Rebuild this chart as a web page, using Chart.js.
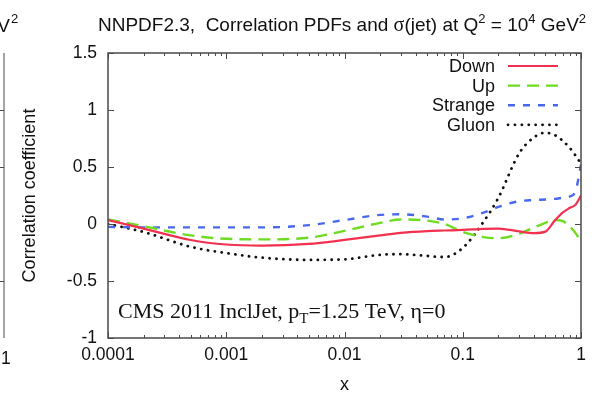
<!DOCTYPE html>
<html>
<head>
<meta charset="utf-8">
<script src="https://cdn.jsdelivr.net/npm/chart.js@4"></script>
<style>
  html, body { margin: 0; padding: 0; background: #fff; }
  #wrap { width: 596px; height: 394px; }
</style>
</head>
<body>
<div id="wrap"><canvas id="corr-chart" width="596" height="394"></canvas></div>
<script>
// values (right panel)
const xValues = [1e-4, 2e-4, 5e-4, 1e-3, 2e-3, 5e-3, 0.01, 0.02, 0.03, 0.05, 0.07, 0.1, 0.15, 0.2, 0.3, 0.4, 0.5, 0.6, 0.7, 0.8, 0.9, 1];
const downValues    = [0.035, -0.04, -0.14, -0.18, -0.19, -0.175, -0.14, -0.1, -0.078, -0.062, -0.057, -0.052, -0.042, -0.04, -0.065, -0.08, -0.067, 0.03, 0.1, 0.14, 0.17, 0.25];
const upValues      = [0.04, -0.02, -0.1, -0.13, -0.135, -0.12, -0.06, 0.01, 0.04, 0.03, 0.0, -0.07, -0.115, -0.125, -0.085, -0.03, 0.01, 0.035, 0.025, -0.02, -0.08, -0.155];
const strangeValues = [-0.025, -0.03, -0.03, -0.03, -0.03, -0.01, 0.035, 0.08, 0.085, 0.065, 0.04, 0.05, 0.1, 0.15, 0.2, 0.21, 0.215, 0.22, 0.23, 0.24, 0.29, 0.52];
const gluonValues   = [0.0, -0.07, -0.2, -0.255, -0.295, -0.315, -0.31, -0.27, -0.265, -0.28, -0.29, -0.21, 0.02, 0.23, 0.62, 0.76, 0.8, 0.78, 0.73, 0.67, 0.6, 0.53];

const seriesNames = ['Down', 'Up', 'Strange', 'Gluon'];
const xTicks = [1e-4, 1e-3, 1e-2, 1e-1, 1];
const xTickLabels = ['0.0001', '0.001', '0.01', '0.1', '1'];
const yTicks = [-1, -0.5, 0, 0.5, 1, 1.5];
const yTickLabels = ['-1', '-0.5', '0', '0.5', '1', '1.5'];

const sans = '"Liberation Sans", Arial, sans-serif';
const serif = '"Liberation Serif", "Times New Roman", serif';

const toPoints = vals => xValues.map((x, i) => ({ x, y: vals[i] }));

function drawParts(ctx, parts, x, y, centered) {
  let total = 0;
  parts.forEach(p => { ctx.font = p[1]; total += ctx.measureText(p[0]).width; });
  let cx = centered ? x - total / 2 : x;
  parts.forEach(p => {
    ctx.font = p[1];
    ctx.fillText(p[0], cx, y + (p[2] || 0));
    cx += ctx.measureText(p[0]).width;
  });
}

const gnuplotFrame = {
  id: 'gnuplotFrame',
  afterDatasetsDraw(chart) {
    const { ctx, chartArea: a, scales } = chart;
    ctx.save();

    // frame with inward ticks
    ctx.strokeStyle = '#4a4a4a';
    ctx.lineWidth = 1.5;
    ctx.strokeRect(a.left, a.top, a.right - a.left, a.bottom - a.top);
    ctx.lineWidth = 1;
    ctx.beginPath();
    const vtick = (px, len) => {
      ctx.moveTo(px, a.bottom); ctx.lineTo(px, a.bottom - len);
      ctx.moveTo(px, a.top); ctx.lineTo(px, a.top + len);
    };
    xTicks.forEach((d, i) => {
      vtick(Math.round(scales.x.getPixelForValue(d)) + 0.5, 6);
      if (i < xTicks.length - 1) {
        for (let k = 2; k < 10; k++) vtick(Math.round(scales.x.getPixelForValue(k * d)) + 0.5, 3);
      }
    });
    yTicks.forEach(v => {
      const py = Math.round(scales.y.getPixelForValue(v)) + 0.5;
      ctx.moveTo(a.left, py); ctx.lineTo(a.left + 6, py);
      ctx.moveTo(a.right, py); ctx.lineTo(a.right - 6, py);
    });
    // edge of the neighbouring panel
    ctx.moveTo(4, a.top); ctx.lineTo(4, a.bottom);
    [1, 0.5, -0.5].forEach(v => {
      const py = Math.round(scales.y.getPixelForValue(v)) + 0.5;
      ctx.moveTo(4, py); ctx.lineTo(0, py);
    });
    ctx.stroke();

    // legend: text on the left, sample on the right
    ctx.fillStyle = '#111';
    ctx.textAlign = 'right';
    ctx.textBaseline = 'middle';
    ctx.font = '18px ' + sans;
    chart.data.datasets.forEach((ds, i) => {
      const y = 66 + i * 19.6;
      ctx.fillText(ds.label, 495, y + 1);
      ctx.save();
      ctx.strokeStyle = ds.borderColor;
      ctx.lineWidth = ds.borderWidth;
      ctx.lineCap = ds.borderCapStyle || 'butt';
      ctx.setLineDash(ds.borderDash || []);
      ctx.beginPath();
      ctx.moveTo(508, y); ctx.lineTo(558, y);
      ctx.stroke();
      ctx.restore();
    });

    // title and annotation
    ctx.textAlign = 'left';
    ctx.textBaseline = 'alphabetic';
    const f = '19px ' + sans, s = '13px ' + sans;
    drawParts(ctx, [
      ['NNPDF2.3,  Correlation PDFs and ', f],
      ['σ', '20px ' + serif],
      ['(jet) at Q', f], ['2', s, -8],
      [' = 10', f], ['4', s, -8],
      [' GeV', f], ['2', s, -8]
    ], 342, 31, true);

    drawParts(ctx, [
      ['CMS 2011 InclJet, p', '22px ' + serif],
      ['T', '15px ' + serif, 5],
      ['=1.25 TeV, η=0', '22px ' + serif]
    ], 118, 318, false);

    // bits of the left panel's labels
    ctx.textAlign = 'right';
    ctx.font = f;
    ctx.fillText('GeV', 10, 32);
    ctx.textAlign = 'left';
    ctx.font = s;
    ctx.fillText('2', 11, 23);
    ctx.font = '17.5px ' + sans;
    ctx.fillText('1', 1, 364);

    ctx.restore();
  }
};

new Chart(document.getElementById('corr-chart'), {
  type: 'line',
  data: {
    datasets: [
      { label: seriesNames[0], data: toPoints(downValues), borderColor: '#f2304f', borderWidth: 2.2 },
      { label: seriesNames[1], data: toPoints(upValues), borderColor: '#6edc22', borderWidth: 2.4, borderDash: [12, 7] },
      { label: seriesNames[2], data: toPoints(strangeValues), borderColor: '#4a68ee', borderWidth: 2.4, borderDash: [7, 8] },
      { label: seriesNames[3], data: toPoints(gluonValues), borderColor: '#111', borderWidth: 2.8, borderDash: [0.1, 6.8], borderCapStyle: 'round' }
    ]
  },
  options: {
    responsive: false,
    animation: false,
    devicePixelRatio: 1,
    layout: { padding: { left: 0, top: 53, right: 15, bottom: 0 } },
    elements: {
      point: { radius: 0 },
      line: { cubicInterpolationMode: 'monotone', fill: false }
    },
    plugins: {
      legend: { display: false },
      title: { display: false },
      tooltip: { enabled: false }
    },
    scales: {
      x: {
        type: 'logarithmic',
        min: 1e-4,
        max: 1,
        afterBuildTicks: scale => { scale.ticks = xTicks.map(v => ({ value: v, major: true })); },
        afterFit: scale => { scale.height = 56; },
        grid: { display: false, drawTicks: false },
        border: { display: false },
        ticks: {
          autoSkip: false,
          maxRotation: 0,
          padding: 7,
          color: '#111',
          font: { family: sans, size: 17.5 },
          callback: (value, index) => xTickLabels[index]
        },
        title: {
          display: true,
          text: 'x',
          color: '#111',
          font: { family: sans, size: 18, lineHeight: 1 },
          padding: { top: 0, bottom: 0 }
        }
      },
      y: {
        min: -1,
        max: 1.5,
        afterBuildTicks: scale => { scale.ticks = yTicks.map(v => ({ value: v })); },
        afterFit: scale => { scale.width = 108; },
        grid: { display: false, drawTicks: false },
        border: { display: false },
        ticks: {
          padding: 11,
          color: '#111',
          font: { family: sans, size: 17.5 },
          callback: value => yTickLabels[yTicks.indexOf(value)]
        },
        title: {
          display: true,
          text: 'Correlation coefficient',
          color: '#111',
          font: { family: sans, size: 18 },
          padding: { top: 19, bottom: 0 }
        }
      }
    }
  },
  plugins: [gnuplotFrame]
});
</script>
</body>
</html>
